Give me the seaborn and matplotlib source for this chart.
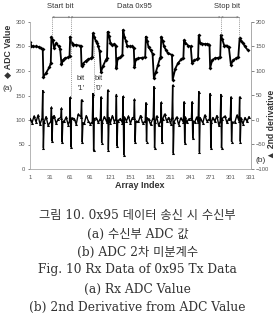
import numpy as np
import pandas as pd
import matplotlib
matplotlib.use('Agg')
import matplotlib.pyplot as plt
import seaborn as sns

# ---- data: ADC trace (key samples) ----
adc_idx = [1, 3, 5, 10, 15, 18, 20, 21, 25, 30, 32, 33, 35, 37, 40, 44, 46, 48, 50, 53, 58, 60,
           61, 63, 65, 70, 75, 77, 78, 80, 84, 88, 92, 94,
           95, 97, 99, 101, 103, 105, 107, 110, 114, 116,
           117, 119, 121, 124, 127, 129, 130, 132, 136, 139,
           140, 142, 144, 146, 150, 154, 156, 157, 159, 163, 168, 173,
           174, 176, 178, 181, 184, 186, 189, 192, 195, 196,
           197, 199, 201, 204, 207, 213, 214, 218, 222, 227, 230,
           231, 233, 237, 241, 243, 246, 250, 252,
           253, 255, 258, 262, 266, 269, 270, 273, 277, 282, 285,
           286, 288, 291, 295, 298, 301, 304, 309, 312,
           314, 316, 319, 322, 326]
adc_val = [260, 252, 250, 250, 249, 246, 245, 188, 196, 208, 216, 270, 263, 247, 257, 250, 245, 214, 222, 226, 228, 230,
           270, 258, 254, 253, 252, 250, 210, 215, 220, 224, 226, 228,
           277, 270, 262, 258, 250, 240, 198, 210, 222, 226,
           280, 272, 258, 253, 255, 252, 206, 226, 228, 233,
           284, 270, 262, 252, 250, 250, 246, 209, 224, 226, 227, 228,
           270, 262, 248, 243, 235, 185, 198, 212, 226, 229,
           270, 262, 250, 243, 236, 233, 182, 205, 216, 224, 226,
           263, 258, 252, 250, 216, 222, 224, 226,
           273, 258, 256, 255, 255, 254, 206, 222, 226, 227, 228,
           273, 265, 252, 252, 248, 212, 222, 226, 228,
           267, 262, 257, 250, 243]

# ---- data: 2nd derivative ----
spike_idx = [20, 33, 48, 61, 78, 95, 107, 117, 130, 140, 157, 174, 186, 197, 214, 231, 243, 253, 270, 286, 301, 314]
spike_up = [60, 26, 24, 46, 41, 54, 47, 61, 52, 48, 42, 35, 68, 36, 71, 37, 37, 58, 54, 52, 47, 47]
spike_dn = [-57, -43, -45, -55, -45, -62, -46, -61, -53, -71, -45, -44, -57, -44, -68, -47, -37, -65, -57, -57, -44, -44]
spike_pre = [4, -3, 5, -2, 6, -4, 3, -5, 2, -6, 4, -3, 5, -2, 6, -4, 3, -5, 2, -3, 4, -2]
spike_post = [-5, 6, -3, 4, -6, 3, -4, 5, -2, 6, -3, 4, -5, 2, -4, 6, -3, 5, -4, 3, -5, 4]
noise_val = [3, -6, 8, -4, 10, -9, 5, -2, 7, -11, 4, -5, 9, -7, 2, -8, 11, -3, 6, -10,
             8, -4, 3, -9, 12, -6, 5, -7, 9, -2, -8, 6, -11, 4, -5, 10, -3, 7, -9, 2,
             -6, 9, -4, 11, -8, 3, -10, 6, -2, 8, -7, 5, -12, 4, -3, 9, -6, 10, -5, 2,
             -9, 7, -4, 8, -11, 3, -6, 12, -2, 5, -8, 9, -3, 6, -10, 4, -7, 11, -5, 2,
             -9, 8, -4, 6, -12, 3, -6, 10, -2, 7, -8, 5, -3, 9, -11, 4, -7, 8, -5, 3,
             -9, 6, -4, 10, -7, 2, -8, 5, -3, 7]
noise_idx = list(range(1, 1 + 3 * len(noise_val), 3))

x_ticks = [1, 31, 61, 91, 121, 151, 181, 211, 241, 271, 301, 331]
left_ticks = [0, 50, 100, 150, 200, 250, 300]
right_ticks = [-100, -50, 0, 50, 100, 150, 200]

caption = ["그림 10. 0x95 데이터 송신 시 수신부",
           "(a) 수신부 ADC 값",
           "(b) ADC 2차 미분계수",
           "Fig. 10 Rx Data of 0x95 Tx Data",
           "(a) Rx ADC Value",
           "(b) 2nd Derivative from ADC Value"]

# build tables
adc_df = pd.DataFrame({'idx': adc_idx, 'val': adc_val})
pts = {i: v for i, v in zip(noise_idx, noise_val)
       if not any(-2 <= i - k <= 3 for k in spike_idx)}
for k, pre, u, d, post in zip(spike_idx, spike_pre, spike_up, spike_dn, spike_post):
    pts[k - 1] = pre
    pts[k] = u
    pts[k + 1] = d
    pts[k + 2] = post
d2_df = pd.DataFrame(sorted(pts.items()), columns=['idx', 'val'])

sns.set_theme(style='white')
plt.rcParams['font.family'] = ['Liberation Sans', 'DejaVu Sans']

W, H = 275, 320
fig = plt.figure(figsize=(W / 100, H / 100), dpi=100)
fig.patch.set_facecolor('white')
ax = fig.add_axes([30 / W, 1 - 169 / H, 221 / W, 147 / H])
ax2 = ax.twinx()

sns.lineplot(data=adc_df, x='idx', y='val', ax=ax, color='black', sort=False,
             marker='D', markersize=2.0, markeredgewidth=0, linewidth=1.3)
sns.lineplot(data=d2_df, x='idx', y='val', ax=ax2, color='black', sort=False,
             marker='^', markersize=2.2, markeredgewidth=0, linewidth=1.0)

ax.set_xlim(1, 331)
ax.set_ylim(0, 300)
ax2.set_ylim(-100, 200)
ax.set_xticks(x_ticks)
ax.set_yticks(left_ticks)
ax2.set_yticks(right_ticks)
ax.set_xlabel('')
ax.set_ylabel('')
ax2.set_ylabel('')
for a in (ax, ax2):
    a.tick_params(labelsize=4.2, colors='#555555', length=1.8, width=0.5, pad=1.5)
    for s in a.spines.values():
        s.set_color('#aaaaaa')
        s.set_linewidth(0.6)
    a.spines['top'].set_visible(False)
    a.grid(False)
ax.tick_params(axis='x', labelsize=4.2, pad=2.5)
ax2.spines['left'].set_visible(False)
ax2.spines['bottom'].set_visible(False)

# top annotations
txt_kw = dict(fontsize=5.5, color='#333333', ha='center', va='center')
fig.text(60 / W, 1 - 6.5 / H, 'Start bit', **txt_kw)
fig.text(134 / W, 1 - 6.5 / H, 'Data 0x95', **txt_kw)
fig.text(227 / W, 1 - 6.5 / H, 'Stop bit', **txt_kw)

ytop = 310
ax.plot([34, 313], [ytop, ytop], color='#777777', lw=0.5, clip_on=False)
for a0, a1 in [(34, 61.5), (61.5, 286), (286, 313)]:
    ax.annotate('', xy=(a0, ytop), xytext=(a1, ytop), annotation_clip=False,
                arrowprops=dict(arrowstyle='<->', color='#777777', lw=0.4, mutation_scale=3,
                                shrinkA=0, shrinkB=0))
dash_kw = dict(color='#777777', lw=0.5, ls=(0, (1.5, 1.5)), clip_on=False)
ax.plot([34, 34], [ytop, 270], **dash_kw)
ax.plot([61.5, 61.5], [ytop, 147], **dash_kw)
ax.plot([97, 97], [250, 147], **dash_kw)
ax.plot([286, 286], [ytop, 273], **dash_kw)
ax.plot([313, 313], [ytop, 267], **dash_kw)

bit_kw = dict(fontsize=5.5, color='#333333', ha='center', va='center')
fig.text(81 / W, 1 - 78 / H, 'bit', **bit_kw)
fig.text(81 / W, 1 - 88 / H, "'1'", **bit_kw)
fig.text(99 / W, 1 - 78 / H, 'bit', **bit_kw)
fig.text(99 / W, 1 - 88 / H, "'0'", **bit_kw)

# axis labels
fig.text(140 / W, 1 - 186 / H, 'Array Index', fontsize=6.5, fontweight='bold',
         color='#333333', ha='center', va='center')
fig.text(8 / W, 1 - 51 / H, '◆ ADC Value', fontsize=6.3, fontweight='bold', rotation=90,
         color='#333333', ha='center', va='center')
fig.text(8 / W, 1 - 88 / H, '(a)', fontsize=6, color='#333333', ha='center', va='center')
fig.text(271.5 / W, 1 - 124 / H, '▲ 2nd derivative', fontsize=6.2, fontweight='bold', rotation=90,
         color='#333333', ha='center', va='center')
fig.text(261 / W, 1 - 161 / H, '(b)', fontsize=6, color='#333333', ha='center', va='center')

# caption
cap_y = [215, 234, 252, 270, 289, 307]
for line, yy in zip(caption, cap_y):
    fig.text(0.5, 1 - yy / H, line, fontsize=8.8, color='#333333', ha='center', va='center',
             family=['DejaVu Serif', 'Noto Sans CJK KR'])

fig.savefig('out.png', dpi=100, facecolor='white')
